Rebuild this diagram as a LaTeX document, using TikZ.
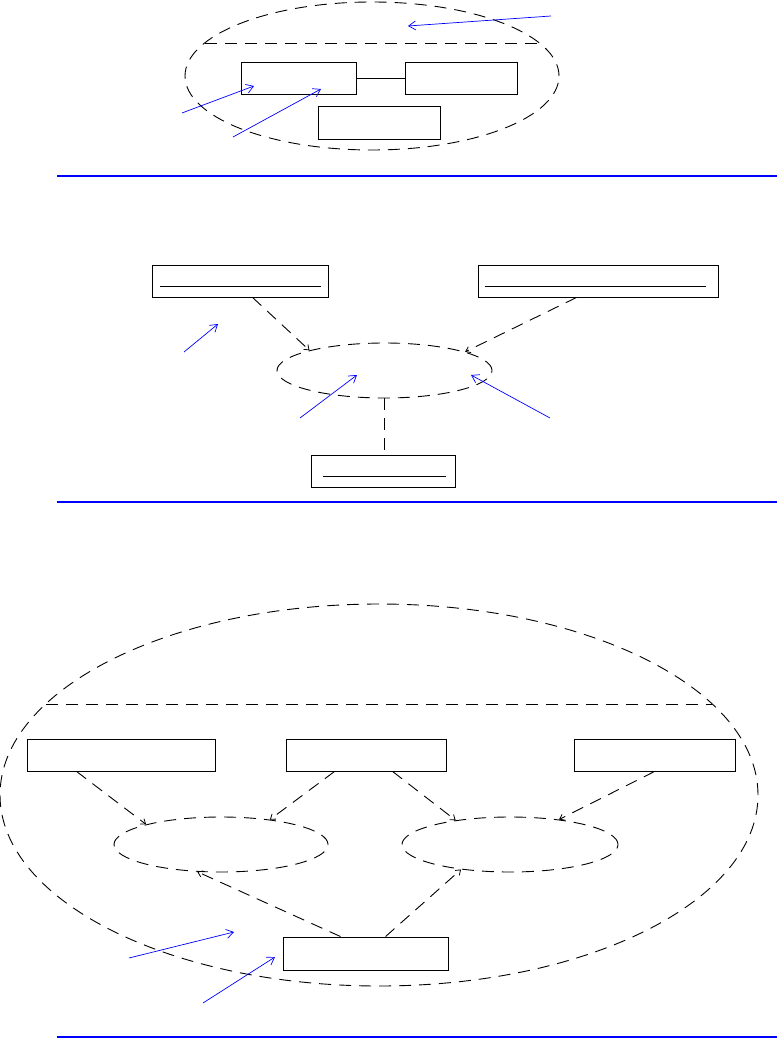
\documentclass[tikz,border=0pt]{standalone}
\usetikzlibrary{shapes.geometric,arrows.meta,calc}
\tikzset{
  box/.style={draw,rectangle,inner sep=0pt,line width=0.9pt},
  dashedell/.style={draw,ellipse,inner sep=0pt,line width=0.9pt,dash pattern=on 12pt off 8pt},
  dline/.style={line width=0.9pt,dash pattern=on 12pt off 8pt},
  dep/.style={dline,-{Straight Barb[length=4.5pt,width=6.5pt,line width=0.8pt]}},
  note/.style={blue,line width=0.7pt,-{Straight Barb[length=7pt,width=9pt,line width=0.7pt]}},
  rule/.style={blue,line width=1.4pt},
  inner/.style={line width=0.9pt}
}
\begin{document}
\begin{tikzpicture}[x=1pt,y=-1pt]
\useasboundingbox (0,0) rectangle (777,1040);

% ---------- section 1 ----------
\node[dashedell,minimum width=374pt,minimum height=148pt] (E1) at (372,76) {};
\draw[dline] ($(E1.center)+(-167,-33)$) -- ($(E1.center)+(167,-33)$);
\node[box,minimum width=115pt,minimum height=32pt] (A) at (298.5,78) {};
\node[box,minimum width=112pt,minimum height=32pt] (B) at (461,78) {};
\node[box,minimum width=122pt,minimum height=33pt] (C) at (379,122.5) {};
\draw[line width=0.9pt] (A.east) -- (B.west);
\coordinate (n1a) at (551,16); \coordinate (n1b) at (408,26);
\coordinate (n2a) at (182,113); \coordinate (n2b) at (254,86);
\coordinate (n3a) at (233,137); \coordinate (n3b) at (321,89);
\draw[note] (n1a) -- (n1b);
\draw[note] (n2a) -- (n2b);
\draw[note] (n3a) -- (n3b);
\coordinate (r1a) at (57,176); \coordinate (r1b) at (777,176);
\draw[rule] (r1a) -- (r1b);

% ---------- section 2 ----------
\node[box,minimum width=176pt,minimum height=32pt] (D) at (240,281) {};
\node[box,minimum width=240pt,minimum height=32pt] (E) at (598,281) {};
\node[box,minimum width=144pt,minimum height=32pt] (F) at (383,471) {};
\draw[inner] ([xshift=8pt,yshift=11pt]D.south west) -- ([xshift=-7pt,yshift=11pt]D.south east);
\draw[inner] ([xshift=7pt,yshift=11pt]E.south west) -- ([xshift=-12pt,yshift=11pt]E.south east);
\draw[inner] ([xshift=12pt,yshift=11pt]F.south west) -- ([xshift=-9pt,yshift=11pt]F.south east);
\node[dashedell,minimum width=215pt,minimum height=55pt] (el2) at (384.5,370.5) {};
\draw[dep] ([xshift=101pt]D.south west) -- (el2.165.7);
\draw[dep] ([xshift=99pt]E.south west) -- (el2.13.6);
\draw[dline] (el2.south) -- (el2.south |- F.north);
\coordinate (n4a) at (184,352); \coordinate (n4b) at (218,324);
\coordinate (n5a) at (300,418); \coordinate (n5b) at (357,375);
\coordinate (n6a) at (550,418); \coordinate (n6b) at (471,375);
\draw[note] (n4a) -- (n4b);
\draw[note] (n5a) -- (n5b);
\draw[note] (n6a) -- (n6b);
\coordinate (r2a) at (57,502); \coordinate (r2b) at (777,502);
\draw[rule] (r2a) -- (r2b);

% ---------- section 3 ----------
\node[dashedell,minimum width=758pt,minimum height=382pt] (E3) at (379,795) {};
\draw[dline] ($(E3.center)+(-333,-91)$) -- ($(E3.center)+(333,-91)$);
\node[box,minimum width=188pt,minimum height=32pt] (B1) at (121,755) {};
\node[box,minimum width=160pt,minimum height=32pt] (B2) at (366,755) {};
\node[box,minimum width=161pt,minimum height=32pt] (B3) at (654.5,755) {};
\node[dashedell,minimum width=214pt,minimum height=55pt] (L) at (221,844.5) {};
\node[dashedell,minimum width=216pt,minimum height=55pt] (R) at (510,844.5) {};
\node[box,minimum width=165pt,minimum height=33pt] (G) at (365.5,953.5) {};
\draw[dep] ([xshift=50pt]B1.south west) -- (L.165.6);
\draw[dep] ([xshift=49pt]B2.south west) -- (L.27.5);
\draw[dep] ([xshift=107pt]B2.south west) -- (R.156.9);
\draw[dep] ([xshift=81pt]B3.south west) -- (R.27);
\draw[dep] ([xshift=58pt]G.north west) -- (L.229.4);
\draw[dep] ([xshift=103pt]G.north west) -- (R.207.8);
\coordinate (n7a) at (129,958); \coordinate (n7b) at (234,932);
\coordinate (n8a) at (203,1003); \coordinate (n8b) at (275,957);
\draw[note] (n7a) -- (n7b);
\draw[note] (n8a) -- (n8b);
\coordinate (r3a) at (57,1037); \coordinate (r3b) at (777,1037);
\draw[rule] (r3a) -- (r3b);
\end{tikzpicture}
\end{document}
